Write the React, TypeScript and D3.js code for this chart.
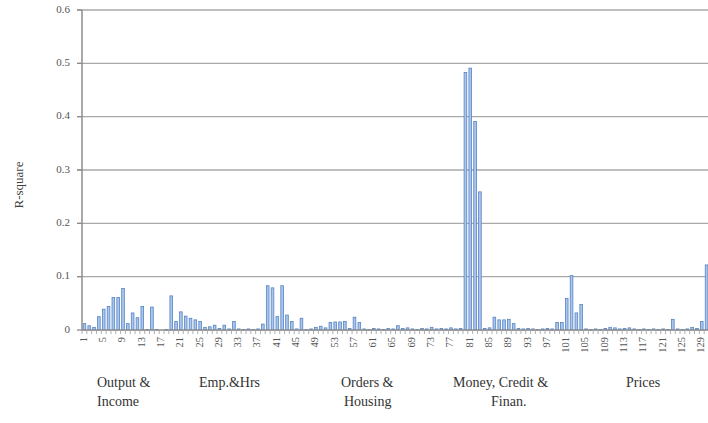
import React from 'react';
import * as d3 from 'd3';

const categories: number[] = d3.range(1, 131);

const rSquare: number[] = [
  0.012, 0.008, 0.005, 0.025, 0.039, 0.044, 0.061, 0.061, 0.078, 0.012,
  0.032, 0.023, 0.044, 0.001, 0.043, 0.001, 0.000, 0.001, 0.064, 0.016,
  0.034, 0.026, 0.022, 0.019, 0.016, 0.005, 0.006, 0.009, 0.003, 0.009,
  0.002, 0.016, 0.002, 0.001, 0.002, 0.001, 0.002, 0.011, 0.083, 0.079,
  0.025, 0.083, 0.028, 0.016, 0.002, 0.022, 0.001, 0.002, 0.005, 0.007,
  0.004, 0.014, 0.015, 0.015, 0.016, 0.003, 0.024, 0.014, 0.002, 0.001,
  0.003, 0.002, 0.001, 0.003, 0.002, 0.008, 0.003, 0.004, 0.002, 0.001,
  0.003, 0.002, 0.005, 0.002, 0.003, 0.002, 0.004, 0.002, 0.003, 0.483,
  0.491, 0.391, 0.259, 0.003, 0.004, 0.024, 0.019, 0.019, 0.020, 0.012,
  0.003, 0.002, 0.003, 0.002, 0.001, 0.002, 0.003, 0.002, 0.014, 0.014,
  0.059, 0.102, 0.032, 0.048, 0.002, 0.001, 0.002, 0.001, 0.003, 0.005,
  0.004, 0.002, 0.003, 0.004, 0.002, 0.001, 0.002, 0.001, 0.002, 0.001,
  0.002, 0.001, 0.020, 0.002, 0.001, 0.002, 0.005, 0.003, 0.016, 0.122,
];

const xTickLabels: number[] = [
  1, 5, 9, 13, 17, 21, 25, 29, 33, 37, 41, 45, 49, 53, 57, 61, 65, 69, 73, 77,
  81, 85, 89, 93, 97, 101, 105, 109, 113, 117, 121, 125, 129,
];

const yTicks: number[] = [0, 0.1, 0.2, 0.3, 0.4, 0.5, 0.6];
const yTickLabels: string[] = ['0', '0.1', '0.2', '0.3', '0.4', '0.5', '0.6'];

const yTitle = 'R-square';

const groupLines: string[][] = [
  ['Output &', 'Income'],
  ['Emp.&Hrs'],
  ['Orders &', 'Housing'],
  ['Money, Credit &', 'Finan.'],
  ['Prices'],
];

// layout (pixel positions, kept separate from data)
const W = 708;
const H = 423;
const plot = { left: 82, right: 709, top: 10, bottom: 330 };
const groupLineX: number[][] = [
  [97, 97],
  [199],
  [341, 344],
  [453, 491],
  [626],
];
const groupLineY = [387, 406];

const FONT = "'Liberation Serif', 'Times New Roman', 'DejaVu Serif', serif";

export default function App() {
  const x = d3
    .scaleBand<number>()
    .domain(categories)
    .range([plot.left, plot.right])
    .paddingInner(0.45)
    .paddingOuter(0.225);
  const xb = d3.scaleBand<number>().domain(categories).range([plot.left, plot.right]);
  const y = d3.scaleLinear().domain([0, 0.6]).range([plot.bottom, plot.top]);
  const ts = { fontFamily: FONT } as React.CSSProperties;

  return (
    <svg
      width={W}
      height={H}
      style={{ position: 'absolute', left: 0, top: 0, background: '#fff', overflow: 'hidden', fontFamily: FONT }}
    >
      <rect x={0} y={0} width={W} height={H} fill="#fff" />
      {/* gridlines */}
      {yTicks.map((t) =>
        t === 0 ? null : (
          <line
            key={'g' + t}
            x1={plot.left - 5}
            x2={plot.right}
            y1={y(t)}
            y2={y(t)}
            stroke="#a9a9a9"
            strokeWidth={1.3}
          />
        )
      )}
      {/* bars */}
      {categories.map((c, i) => {
        const v = rSquare[i];
        const top = y(v);
        const h = plot.bottom - top;
        if (h <= 0) return null;
        return (
          <rect
            key={'b' + c}
            x={x(c)!}
            y={top}
            width={x.bandwidth()}
            height={h}
            fill="#aac6ec"
            stroke="#5583c2"
            strokeWidth={0.8}
          />
        );
      })}
      {/* y axis */}
      <line x1={plot.left} x2={plot.left} y1={plot.top} y2={plot.bottom} stroke="#8c8c8c" strokeWidth={1.5} />
      {yTicks.map((t, i) => (
        <g key={'yt' + t}>
          <line x1={plot.left - 5} x2={plot.left} y1={y(t)} y2={y(t)} stroke="#8c8c8c" strokeWidth={1.3} />
          <text
            x={plot.left - 12}
            y={y(t)}
            textAnchor="end"
            dominantBaseline="middle"
            fontSize={11}
            fill="#555"
            style={ts}
          >
            {yTickLabels[i]}
          </text>
        </g>
      ))}
      {/* x axis */}
      <line x1={plot.left} x2={plot.right} y1={plot.bottom} y2={plot.bottom} stroke="#8c8c8c" strokeWidth={1.3} />
      {categories.map((c) => (
        <line
          key={'xt' + c}
          x1={xb(c)!}
          x2={xb(c)!}
          y1={plot.bottom}
          y2={plot.bottom + 4}
          stroke="#9a9a9a"
          strokeWidth={0.8}
        />
      ))}
      {xTickLabels.map((c) => {
        const cx = xb(c)! + xb.bandwidth() / 2;
        const ty = plot.bottom + 7;
        return (
          <text
            key={'xl' + c}
            transform={`translate(${cx},${ty}) rotate(-90)`}
            textAnchor="end"
            dominantBaseline="middle"
            fontSize={10.5}
            fill="#555"
            style={ts}
          >
            {c}
          </text>
        );
      })}
      {/* y title */}
      <text
        transform={`translate(20,${(plot.top + plot.bottom) / 2 + 15}) rotate(-90)`}
        textAnchor="middle"
        dominantBaseline="middle"
        fontSize={13}
        fill="#404040"
        style={ts}
      >
        {yTitle}
      </text>
      {/* group labels */}
      {groupLines.map((lines, gi) =>
        lines.map((ln, li) => (
          <text
            key={'gl' + gi + '-' + li}
            x={groupLineX[gi][li]}
            y={groupLineY[li]}
            fontSize={14}
            fill="#333"
            style={ts}
          >
            {ln}
          </text>
        ))
      )}
    </svg>
  );
}
